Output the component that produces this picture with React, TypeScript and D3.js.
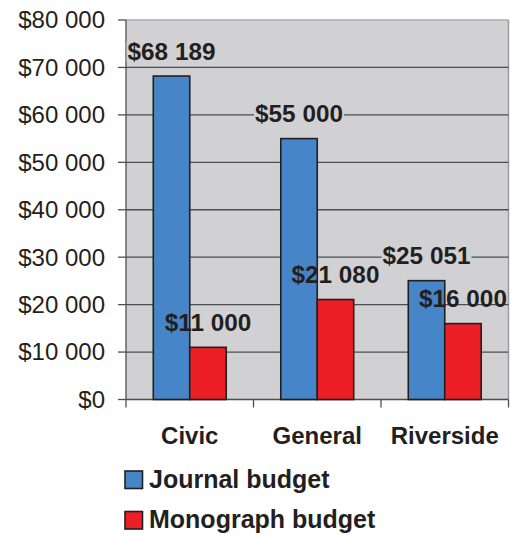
import React from 'react';
import * as d3 from 'd3';

const categories = ['Civic', 'General', 'Riverside'];
const seriesNames = ['Journal budget', 'Monograph budget'];
const journalBudget = [68189, 55000, 25051];
const monographBudget = [11000, 21080, 16000];
const yTicks = [0, 10000, 20000, 30000, 40000, 50000, 60000, 70000, 80000];

const colors = ['#4685c7', '#ec1f27'];
const ink = '#231f20';
const font = 'Liberation Sans, Arial, sans-serif';

const fmt = (v: number) => '$' + d3.format(',')(v).replace(/,/g, ' ');

export default function App() {
  const width = 511, height = 535;
  const plot = { left: 126, right: 508.5, top: 20, bottom: 399.5 };

  const x = d3.scaleBand<string>()
    .domain(categories)
    .range([plot.left, plot.right])
    .paddingInner(0.428)
    .paddingOuter(0.214);

  const xs = d3.scaleBand<number>()
    .domain([0, 1])
    .range([0, x.bandwidth()]);

  const y = d3.scaleLinear()
    .domain([0, 80000])
    .range([plot.bottom, plot.top]);

  const series = [journalBudget, monographBudget];
  const step = x.step();

  return (
    <svg width={width} height={height} style={{ position: 'absolute', left: 0, top: 0 }}
      fontFamily={font}>
      {/* plot background */}
      <rect x={plot.left} y={plot.top} width={plot.right - plot.left} height={plot.bottom - plot.top}
        fill="#d1d1d3" />
      <line x1={plot.left} x2={plot.right} y1={plot.top} y2={plot.top} stroke="#a9abad" strokeWidth={1.5} />
      <line x1={plot.right} x2={plot.right} y1={plot.top} y2={plot.bottom} stroke="#9a9c9e" strokeWidth={1.5} />

      {/* gridlines */}
      {yTicks.filter(t => t > 0 && t < 80000).map(t => (
        <line key={'g' + t} x1={plot.left} x2={plot.right} y1={y(t)} y2={y(t)}
          stroke="#4d4e50" strokeWidth={1.3} />
      ))}

      {/* y axis */}
      <line x1={plot.left} x2={plot.left} y1={plot.top} y2={plot.bottom} stroke="#4d4e50" strokeWidth={1.3} />
      {yTicks.map(t => (
        <g key={'t' + t}>
          <line x1={plot.left - 8} x2={plot.left} y1={y(t)} y2={y(t)} stroke="#4d4e50" strokeWidth={1.3} />
          <text x={105} y={y(t)} dy="0.35em" textAnchor="end" fontSize={24} fill={ink}>{fmt(t)}</text>
        </g>
      ))}

      {/* x axis */}
      <line x1={plot.left} x2={plot.right} y1={plot.bottom} y2={plot.bottom} stroke="#4d4e50" strokeWidth={1.3} />
      {categories.map((c, i) => {
        const x0 = plot.left + i * step;
        return <line key={'xt' + c} x1={x0} x2={x0} y1={plot.bottom} y2={plot.bottom + 8} stroke="#4d4e50" strokeWidth={1.3} />;
      })}
      <line x1={plot.right} x2={plot.right} y1={plot.bottom} y2={plot.bottom + 8} stroke="#4d4e50" strokeWidth={1.3} />
      {categories.map(c => (
        <text key={'xl' + c} x={(x(c) as number) + x.bandwidth() / 2} y={444} textAnchor="middle"
          fontSize={24} fontWeight="bold" fill={ink}>{c}</text>
      ))}

      {/* bars */}
      {series.map((vals, s) => vals.map((v, i) => (
        <rect key={'b' + s + i}
          x={(x(categories[i]) as number) + (xs(s) as number)}
          y={y(v)}
          width={xs.bandwidth()}
          height={y(0) - y(v)}
          fill={colors[s]} stroke={ink} strokeWidth={1.6} />
      )))}

      {/* value labels */}
      {series.map((vals, s) => vals.map((v, i) => {
        const cx = (x(categories[i]) as number) + (xs(s) as number) + xs.bandwidth() / 2;
        const by = y(v) - 16.5;
        return (
          <g key={'l' + s + i}>
            {s === 0 && <rect x={cx - 45} y={by - 18} width={90} height={20} fill="#d1d1d3" />}
            <text x={cx} y={by} textAnchor="middle" fontSize={24.3} fontWeight="bold" fill={ink}>{fmt(v)}</text>
          </g>
        );
      }))}

      {/* legend */}
      {seriesNames.map((n, s) => (
        <g key={'lg' + n} transform={`translate(125, ${471 + s * 40.5})`}>
          <rect x={0} y={0} width={17.5} height={17.5} fill={colors[s]} stroke={ink} strokeWidth={1.6} />
          <text x={24} y={16.8} fontSize={25} fontWeight="bold" fill={ink}>{n}</text>
        </g>
      ))}
    </svg>
  );
}
